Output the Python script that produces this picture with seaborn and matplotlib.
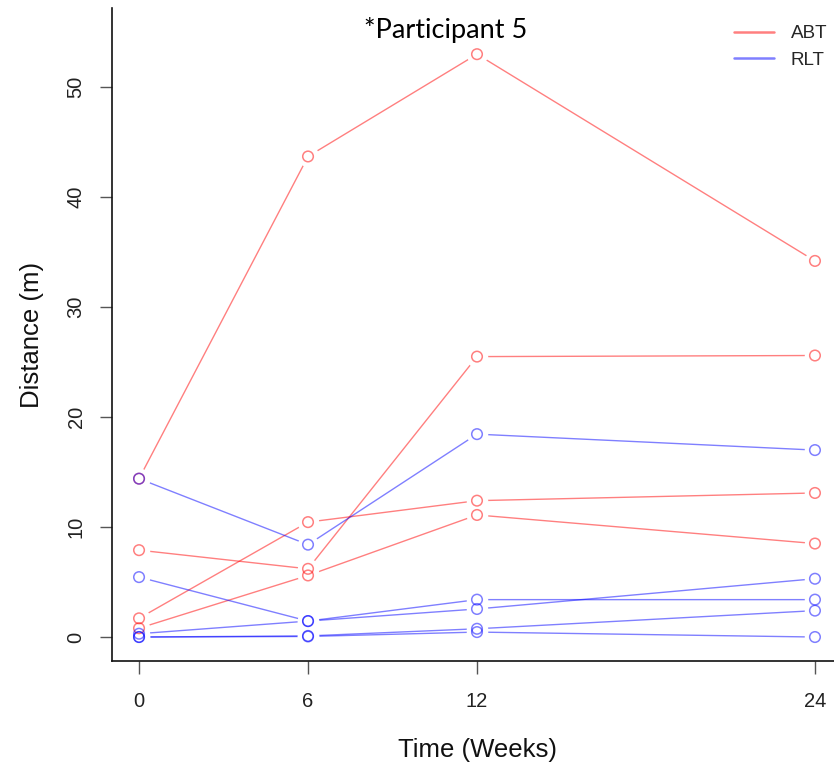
import numpy as np
import pandas as pd
import matplotlib
matplotlib.use("Agg")
import matplotlib.pyplot as plt
from matplotlib.lines import Line2D
import seaborn as sns

# Assessment time points (weeks)
weeks = [0, 6, 12, 24]

# ABT group: distance (m) per participant
abt_p5 = [14.4, 43.7, 53.0, 34.2]
abt_p2 = [1.7, 10.45, 12.4, 13.1]
abt_p3 = [7.9, 6.2, 25.5, 25.6]
abt_p4 = [0.8, 5.6, 11.1, 8.5]

# RLT group: distance (m) per participant
rlt_p1 = [14.4, 8.4, 18.45, 17.0]
rlt_p2 = [5.45, 1.45, 3.4, 3.4]
rlt_p3 = [0.3, 1.45, 2.55, 5.3]
rlt_p4 = [0.0, 0.1, 0.75, 2.4]
rlt_p5 = [0.0, 0.05, 0.45, 0.0]

groups = ["ABT", "RLT"]
group_colors = {"ABT": (1.0, 0.0, 0.0), "RLT": (0.0, 0.0, 1.0)}

series = [
    ("ABT", "ABT-5", abt_p5), ("ABT", "ABT-2", abt_p2),
    ("ABT", "ABT-3", abt_p3), ("ABT", "ABT-4", abt_p4),
    ("RLT", "RLT-1", rlt_p1), ("RLT", "RLT-2", rlt_p2),
    ("RLT", "RLT-3", rlt_p3), ("RLT", "RLT-4", rlt_p4),
    ("RLT", "RLT-5", rlt_p5),
]
rows = []
for grp, pid, vals in series:
    for w, v in zip(weeks, vals):
        rows.append({"group": grp, "pid": pid, "week": w, "distance": v})
df = pd.DataFrame(rows)

sns.set_theme(style="white")
plt.rcParams["font.family"] = ["Liberation Sans", "DejaVu Sans"]

W, H = 834, 764
fig = plt.figure(figsize=(W / 100, H / 100), dpi=100)
ax = fig.add_axes([112 / W, (H - 661) / H, 730 / W, 653 / H])

# connecting lines for each participant
sns.lineplot(data=df, x="week", y="distance", hue="group", units="pid",
             estimator=None, palette=group_colors, hue_order=groups,
             alpha=0.5, linewidth=1.0, legend=False, ax=ax, sort=False)

# white halo so the lines stop short of each point
sns.scatterplot(data=df, x="week", y="distance", color="white", s=240,
                linewidth=0, legend=False, ax=ax, zorder=3)

# open circle markers
for grp in groups:
    sub = df[df["group"] == grp]
    rgba = (*group_colors[grp], 0.5)
    sns.scatterplot(data=sub, x="week", y="distance", color=rgba,
                    facecolor="none", edgecolor=rgba, linewidth=1.1, s=58,
                    legend=False, ax=ax, zorder=4)

ax.set_xlim(-0.96, 24.96)
ax.set_ylim(-2.18, 57.2)
ax.set_xticks(weeks)
ax.set_xticklabels([str(w) for w in weeks])
yt = [0, 10, 20, 30, 40, 50]
ax.set_yticks(yt)
ax.set_yticklabels([str(v) for v in yt], rotation=90, va="center")

for side in ("top", "right"):
    ax.spines[side].set_visible(False)
for side in ("left", "bottom"):
    ax.spines[side].set_color("#111111")
    ax.spines[side].set_linewidth(1.2)

ax.tick_params(axis="both", direction="out", length=9, width=1.0,
               color="#555555", labelsize=14.5, labelcolor="#222222",
               left=True, bottom=True)
ax.tick_params(axis="x", pad=13)
ax.tick_params(axis="y", pad=10)

ax.set_xlabel("Time (Weeks)", fontsize=18.5, color="#111111", labelpad=20)
ax.set_ylabel("Distance (m)", fontsize=18.5, color="#111111", labelpad=16)

handles = [Line2D([], [], color=group_colors[g], alpha=0.5, linewidth=1.8)
           for g in groups]
fig.legend(handles, groups, loc="upper left",
           bbox_to_anchor=(734 / W, 1 - 25 / H), frameon=False,
           fontsize=13.6, handlelength=2.1, handletextpad=0.9,
           labelspacing=0.5, borderpad=0, borderaxespad=0)

fig.text(446 / W, 1 - 30 / H, "*Participant 5", ha="center", va="center",
         fontsize=19.5, family=["Lato", "DejaVu Sans"], color="black")

fig.savefig("out.png", dpi=100)
